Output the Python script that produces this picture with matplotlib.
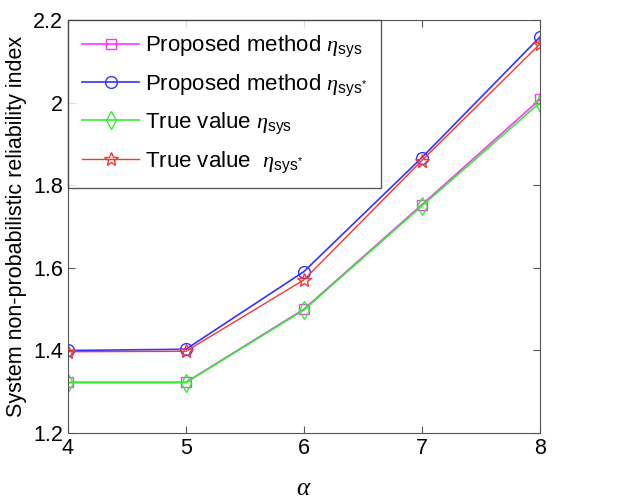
import matplotlib
matplotlib.use("Agg")
import matplotlib.pyplot as plt

plt.rcParams['font.family'] = ['Liberation Sans', 'DejaVu Sans']
plt.rcParams['mathtext.fontset'] = 'custom'
plt.rcParams['mathtext.rm'] = 'Liberation Sans'
plt.rcParams['mathtext.it'] = 'Liberation Serif:italic'

alpha = [4, 5, 6, 7, 8]
proposed_sys = [1.323, 1.323, 1.500, 1.753, 2.008]
proposed_sys_star = [1.400, 1.403, 1.591, 1.867, 2.159]
true_sys = [1.322, 1.322, 1.498, 1.750, 2.000]
true_sys_star = [1.397, 1.398, 1.571, 1.860, 2.142]

fig = plt.figure(figsize=(6.17, 5.03), dpi=100)
ax = fig.add_axes([0.110, 0.139, 0.765, 0.821])

ax.plot(alpha, proposed_sys, color='#ff33ff', marker='s', mfc='none', ms=6.5, lw=1.2,
        label=r'Proposed method $\eta_{\mathrm{sys}}$')
ax.plot(alpha, proposed_sys_star, color='#3333ff', marker='o', mfc='none', ms=8.5, lw=1.2,
        label=r'Proposed method $\eta_{\mathrm{sys}^{*}}$')
ax.plot(alpha, true_sys, color='#33ee33', marker='d', mfc='none', ms=9, lw=1.2,
        label=r'True value $\eta_{\mathrm{sys}}$')
ax.plot(alpha, true_sys_star, color='#ff3333', marker='*', mfc='none', ms=10, lw=1.0,
        label=r'True value  $\eta_{\mathrm{sys}^{*}}$')

ax.set_xlim(4, 8)
ax.set_ylim(1.2, 2.2)
ax.set_xticks([4, 5, 6, 7, 8])
ax.set_yticks([1.2, 1.4, 1.6, 1.8, 2.0, 2.2])
ax.set_yticklabels(['1.2', '1.4', '1.6', '1.8', '2', '2.2'])
ax.tick_params(direction='in', top=True, right=True, labelsize=15.5, length=5, color='#555555')
for s in ax.spines.values():
    s.set_color('#555555')
ax.set_xlabel(r'$\alpha$', fontsize=18, labelpad=12)
ax.set_ylabel('System non-probabilistic reliability index', fontsize=15.5)

leg = ax.legend(loc='upper left', fontsize=16, frameon=True, fancybox=False,
                borderaxespad=0, edgecolor='#333333', handlelength=2.6,
                labelspacing=0.58, handletextpad=0.25, borderpad=0.62)
leg.get_frame().set_linewidth(1.0)

fig.savefig('out.png', dpi=100)
